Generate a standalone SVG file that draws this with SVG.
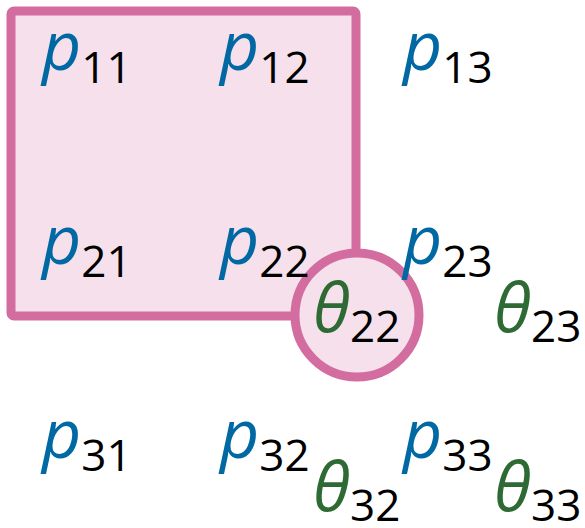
<svg xmlns="http://www.w3.org/2000/svg" width="585" height="528" viewBox="0 0 585 528">
  <style>
    .shape { fill: #f6e0ec; stroke: #d36c9f; stroke-width: 9; }
    text { font-family: "Open Sans", "Noto Sans", "DejaVu Sans", sans-serif; }
    .p { fill: #0068a3; font-style: italic; font-size: 68px; }
    .t { fill: #2e6a33; font-style: italic; font-size: 68px; }
    .sub { fill: #000; font-style: normal; font-size: 44px; }
  </style>
  <g id="block">
    <rect class="shape" x="11" y="11" width="345" height="305" rx="3"/>
  </g>
  <g id="focus">
    <circle class="shape" cx="357" cy="315" r="62"/>
  </g>
  <g id="p11"><text class="p" x="42" y="70">p<tspan class="sub" dy="13">11</tspan></text></g>
  <g id="p12"><text class="p" x="220" y="70">p<tspan class="sub" dy="13">12</tspan></text></g>
  <g id="p13"><text class="p" x="403" y="70">p<tspan class="sub" dy="13">13</tspan></text></g>
  <g id="p21"><text class="p" x="42" y="264">p<tspan class="sub" dy="13">21</tspan></text></g>
  <g id="p22"><text class="p" x="220" y="264">p<tspan class="sub" dy="13">22</tspan></text></g>
  <g id="p23"><text class="p" x="403" y="264">p<tspan class="sub" dy="13">23</tspan></text></g>
  <g id="p31"><text class="p" x="42" y="458">p<tspan class="sub" dy="13">31</tspan></text></g>
  <g id="p32"><text class="p" x="220" y="458">p<tspan class="sub" dy="13">32</tspan></text></g>
  <g id="p33"><text class="p" x="403" y="458">p<tspan class="sub" dy="13">33</tspan></text></g>
  <g id="theta22"><text class="t" x="313" y="332">θ<tspan class="sub" dy="10">22</tspan></text></g>
  <g id="theta23"><text class="t" x="494" y="332">θ<tspan class="sub" dy="10">23</tspan></text></g>
  <g id="theta32"><text class="t" x="313" y="511">θ<tspan class="sub" dy="10">32</tspan></text></g>
  <g id="theta33"><text class="t" x="494" y="511">θ<tspan class="sub" dy="10">33</tspan></text></g>
</svg>
